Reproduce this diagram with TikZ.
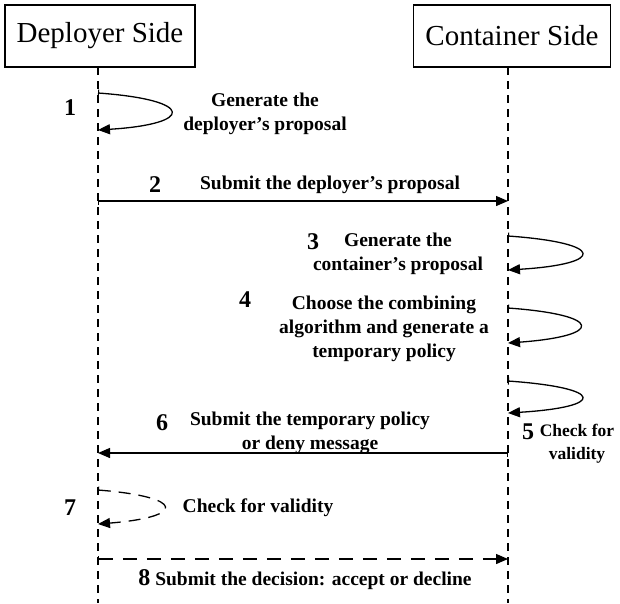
\documentclass[tikz,border=0pt]{standalone}
\usepackage{fontspec}
\setmainfont{Liberation Serif}
\usetikzlibrary{arrows.meta}
\begin{document}
\begin{tikzpicture}[x=1pt,y=-1pt,
  party/.style={draw,line width=1.2pt,minimum width=190pt,minimum height=62pt,
    inner sep=0pt,font=\fontsize{29}{32}\selectfont},
  lifeline/.style={line width=1.1pt,dash pattern=on 8pt off 6pt},
  msg/.style={line width=1.3pt,{Bar[width=7pt,line width=1pt]}-{Triangle[length=12pt,width=10pt]}},
  dmsg/.style={msg,dash pattern=on 14pt off 10pt},
  lbl/.style={font=\fontsize{19.5}{24}\selectfont\bfseries,align=center,inner sep=0pt},
  num/.style={font=\fontsize{24}{26}\selectfont\bfseries,inner sep=0pt}]
\useasboundingbox (0,0) rectangle (620,603);

% participants and their lifelines
\node[party] (dep) at (100,36) {Deployer Side};
\node[party,minimum width=197pt] (con) at (512,36) {Container Side};
\coordinate (depEnd) at (98,603);
\coordinate (conEnd) at (508,603);
\draw[lifeline] (98,67) -- (depEnd);
\draw[lifeline] (508,67) -- (conEnd);

% 1: deployer self-message
\coordinate (a1) at (98,93);
\coordinate (b1) at (98,130);
\draw[msg] (a1) .. controls (195,100) and (195,124) .. (b1);
\node[num] (n1) at (70,108) {1};
\node[lbl] (t1) at (265,114) {Generate the\\deployer’s proposal};

% 2: deployer -> container
\coordinate (a2) at (98,201);
\coordinate (b2) at (508,201);
\draw[msg] (a2) -- (b2);
\node[num] (n2) at (155,185) {2};
\node[lbl] (t2) at (330,185) {Submit the deployer’s proposal};

% 3: container self-message
\coordinate (a3) at (508,236);
\coordinate (b3) at (508,270);
\draw[msg] (a3) .. controls (606,243) and (606,264) .. (b3);
\node[num] (n3) at (313,242) {3};
\node[lbl] (t3) at (398,254) {Generate the\\container’s proposal};

% 4: container self-message
\coordinate (a4) at (508,308);
\coordinate (b4) at (508,343);
\draw[msg] (a4) .. controls (604,315) and (604,336) .. (b4);
\node[num] (n4) at (245,300) {4};
\node[lbl] (t4) at (384,329) {Choose the combining\\algorithm and generate a\\temporary policy};

% 5: container self-message
\coordinate (a5) at (508,381);
\coordinate (b5) at (508,413);
\draw[msg] (a5) .. controls (606,388) and (606,407) .. (b5);
\node[num] (n5) at (528,432) {5};
\node[lbl,font=\fontsize{17.5}{23}\selectfont\bfseries] (t5) at (577,444) {Check for\\validity};

% 6: container -> deployer
\coordinate (a6) at (508,453);
\coordinate (b6) at (98,453);
\draw[msg] (a6) -- (b6);
\node[num] (n6) at (162,423) {6};
\node[lbl] (t6) at (310,433) {Submit the temporary policy\\or deny message};

% 7: deployer self-check (dashed)
\coordinate (a7) at (98,490);
\coordinate (b7) at (98,524);
\draw[dmsg,dash pattern=on 12pt off 8pt] (a7) .. controls (186,497) and (186,517) .. (b7);
\node[num] (n7) at (70,508) {7};
\node[lbl] (t7) at (258,508) {Check for validity};

% 8: deployer -> container (dashed)
\coordinate (a8) at (98,559);
\coordinate (b8) at (508,559);
\draw[dmsg] (a8) -- (b8);
\node[lbl] (t8) at (305,580) {{\fontsize{24}{26}\selectfont 8} Submit the decision: accept or decline};
\end{tikzpicture}
\end{document}
